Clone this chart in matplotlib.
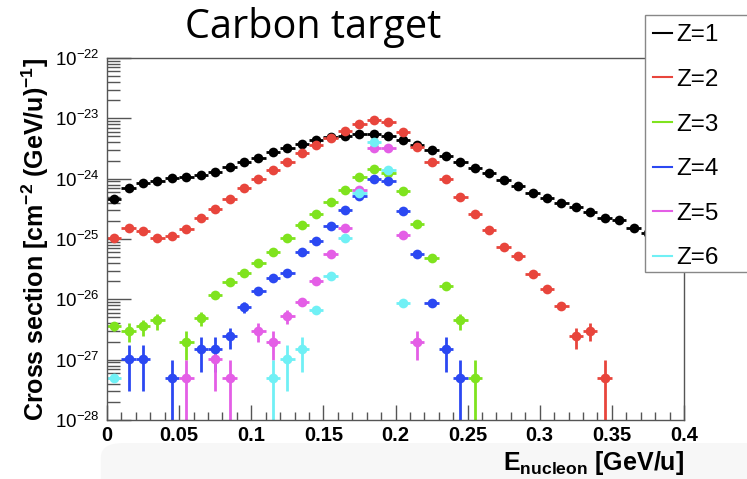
import numpy as np
import matplotlib
matplotlib.use("Agg")
import matplotlib.pyplot as plt
from matplotlib.lines import Line2D
from matplotlib.patches import FancyBboxPatch, Rectangle
from matplotlib.ticker import FixedLocator, LogLocator, MultipleLocator, NullFormatter

plt.rcParams['font.family'] = ['Liberation Sans', 'DejaVu Sans']
plt.rcParams['mathtext.fontset'] = 'custom'
plt.rcParams['mathtext.rm'] = 'Liberation Sans:bold'
plt.rcParams['mathtext.it'] = 'Liberation Sans:bold'
plt.rcParams['mathtext.bf'] = 'Liberation Sans:bold'

# bin width 0.01 GeV/u, points at bin centres starting at 0.005
bin_w = 0.01
nan = np.nan

# Z=1 (0.005 ... 0.395), last three hidden under the legend
z1 = [4.60e-25, 7.10e-25, 8.51e-25, 9.12e-25, 1.02e-24, 1.07e-24, 1.17e-24, 1.29e-24,
      1.58e-24, 1.91e-24, 2.24e-24, 2.75e-24, 3.24e-24, 3.72e-24, 4.37e-24, 4.90e-24,
      5.00e-24, 5.50e-24, 5.50e-24, 5.13e-24, 4.37e-24, 3.63e-24, 3.02e-24, 2.34e-24,
      1.91e-24, 1.51e-24, 1.23e-24, 9.55e-25, 7.59e-25, 5.89e-25, 4.79e-25, 3.89e-25,
      3.39e-25, 2.75e-25, 2.19e-25, 2.04e-25, 1.55e-25, 1.26e-25, 1.00e-25, 8.00e-26]
z1_err = [0.03] * 40

# Z=2 (0.005 ... 0.345)
z2 = [1.05e-25, 1.55e-25, 1.38e-25, 1.05e-25, 1.12e-25, 1.48e-25, 2.19e-25, 3.16e-25,
      4.57e-25, 7.08e-25, 9.77e-25, 1.38e-24, 1.91e-24, 2.63e-24, 3.55e-24, 4.68e-24,
      6.17e-24, 7.94e-24, 9.33e-24, 8.71e-24, 6.03e-24, 3.39e-24, 1.91e-24, 9.77e-25,
      5.01e-25, 2.57e-25, 1.41e-25, 7.24e-26, 5.25e-26, 2.63e-26, 1.48e-26, 7.76e-27,
      2.45e-27, 3.02e-27, 5.00e-28]
z2_err = [0.03] * 30 + [0.08, 0.15, 0.38, 0.33, 1.0]

# Z=3 (0.005 ... 0.255)
z3 = [3.55e-27, 3.02e-27, 3.55e-27, 4.47e-27, nan, 2.00e-27, 4.90e-27, 1.17e-26,
      1.91e-26, 2.75e-26, 4.07e-26, 6.17e-26, 1.02e-25, 1.70e-25, 2.63e-25, 4.07e-25,
      6.61e-25, 1.05e-24, 1.45e-24, 1.26e-24, 6.31e-25, 1.78e-25, 4.79e-26, 1.66e-26,
      4.47e-27, 5.00e-28]
z3_err = [0.15, 0.35, 0.3, 0.3, 0.0, 0.5, 0.25, 0.12, 0.1, 0.08, 0.05, 0.05, 0.03,
          0.03, 0.03, 0.03, 0.03, 0.03, 0.03, 0.03, 0.03, 0.03, 0.05, 0.1, 0.3, 1.0]

# Z=4 (0.005 ... 0.245)
z4 = [nan, 1.02e-27, 1.02e-27, nan, 5.00e-28, nan, 1.48e-27, 1.48e-27,
      2.45e-27, 7.41e-27, 1.35e-26, 2.29e-26, 2.69e-26, 6.17e-26, 9.33e-26, 1.66e-25,
      3.02e-25, 5.25e-25, 9.77e-25, 9.12e-25, 2.95e-25, 5.75e-26, 8.71e-27, 1.48e-27,
      5.00e-28]
z4_err = [0.0, 0.707, 0.707, 0.0, 1.0, 0.0, 0.577, 0.577, 0.38, 0.2, 0.12, 0.08, 0.08,
          0.05, 0.04, 0.03, 0.03, 0.03, 0.03, 0.03, 0.03, 0.06, 0.15, 0.577, 1.0]

# Z=5 (0.005 ... 0.215)
z5 = [nan, nan, nan, nan, nan, 5.00e-28, nan, 1.02e-27, 5.00e-28, nan, 3.02e-27,
      2.00e-27, 5.25e-27, 9.12e-27, 2.00e-26, 5.62e-26, 1.55e-25, 6.46e-25, 3.24e-24,
      3.24e-24, 1.17e-25, 2.00e-27]
z5_err = [0.0, 0.0, 0.0, 0.0, 0.0, 1.0, 0.0, 0.707, 1.0, 0.0, 0.35, 0.5, 0.25, 0.15,
          0.1, 0.06, 0.04, 0.03, 0.03, 0.03, 0.04, 0.5]

# Z=6 (0.005 ... 0.205)
z6 = [5.00e-28, nan, nan, nan, nan, nan, nan, nan, nan, nan, nan, 5.00e-28,
      1.02e-27, 1.48e-27, 6.76e-27, 2.40e-26, 1.02e-25, 5.75e-25, 3.98e-24, 1.38e-24,
      8.71e-27]
z6_err = [0.1, 0, 0, 0, 0, 0, 0, 0, 0, 0, 0, 1.0, 0.707, 0.577, 0.15, 0.08, 0.04,
          0.03, 0.03, 0.03, 0.15]

labels = ["Z=1", "Z=2", "Z=3", "Z=4", "Z=5", "Z=6"]
colors = ["#000000", "#e8453c", "#7fe31e", "#2b48f2", "#e45ee6", "#70f0f5"]
series = [z1, z2, z3, z4, z5, z6]
errors = [z1_err, z2_err, z3_err, z4_err, z5_err, z6_err]
xtick_vals = [0, 0.05, 0.1, 0.15, 0.2, 0.25, 0.3, 0.35, 0.4]
xtick_text = ["0", "0.05", "0.1", "0.15", "0.2", "0.25", "0.3", "0.35", "0.4"]
ytick_vals = [1e-28, 1e-27, 1e-26, 1e-25, 1e-24, 1e-23, 1e-22]

fig = plt.figure(figsize=(7.47, 4.79), dpi=100)

# faint grey slide background strip at the bottom
fig.patches.append(FancyBboxPatch((0.135, -0.05), 0.95, 0.125,
                                  boxstyle="round,pad=0,rounding_size=0.03",
                                  transform=fig.transFigure, facecolor='#f7f7f7',
                                  edgecolor='none', zorder=-5))

ax = fig.add_axes([107 / 747, 1 - 420 / 479, (684 - 107) / 747, (420 - 58) / 479])
ax.patch.set_alpha(0)

for vals, rel, col in zip(series, errors, colors):
    y = np.array(vals, dtype=float)
    r = np.array(rel, dtype=float)
    x = bin_w / 2 + bin_w * np.arange(len(y))
    sig = y * r
    lower = np.where(r >= 1.0, y * 0.999999, sig)
    ax.errorbar(x, y, yerr=[lower, sig], xerr=bin_w / 2, fmt='o', color=col,
                ms=7, elinewidth=2.0, capsize=0, mew=0)

ax.set_yscale('log')
ax.set_xlim(0, 0.4)
ax.set_ylim(1e-28, 1e-22)

ax.set_xticks(xtick_vals)
ax.set_xticklabels(xtick_text, fontweight='bold')
ax.xaxis.set_minor_locator(MultipleLocator(0.01))
ax.yaxis.set_major_locator(FixedLocator(ytick_vals))
ax.yaxis.set_minor_locator(LogLocator(base=10, subs=np.arange(2, 10), numticks=20))
ax.yaxis.set_minor_formatter(NullFormatter())

ax.tick_params(axis='both', which='both', direction='in', top=False, right=False,
               color='#555555')
ax.tick_params(axis='x', which='major', length=11, width=1, pad=4, labelsize=14.5)
ax.tick_params(axis='x', which='minor', length=6, width=1)
ax.tick_params(axis='y', which='major', length=17, width=1, pad=5, labelsize=13.5)
ax.tick_params(axis='y', which='minor', length=9, width=1)
for sp in ax.spines.values():
    sp.set_color('#555555')
    sp.set_linewidth(1.0)

ax.set_ylabel(r"Cross section [cm$^{-2}$ (GeV/u)$^{-1}$]", fontsize=18,
              fontweight='bold', labelpad=3)
ax.text(1.0, -0.08, r"E$_{\mathrm{nucleon}}$ [GeV/u]", transform=ax.transAxes,
        ha='right', va='top', fontsize=18, fontweight='bold', zorder=10)

fig.text(313 / 747, 1 - 28 / 479, "Carbon target", ha='center', va='center', fontsize=28.5,
         family=['Open Sans', 'DejaVu Sans'])

# legend box runs past the right edge of the picture
fig.patches.append(Rectangle((645 / 747, 1 - 272 / 479), 0.2, 257 / 479,
                             transform=fig.transFigure, facecolor='white',
                             edgecolor='#888888', lw=1.0, zorder=5))
handles = [Line2D([0], [0], color=c, lw=1.5) for c in colors]
leg = fig.legend(handles, labels, loc='upper left',
                 bbox_to_anchor=(646 / 747, 1 - 17 / 479),
                 frameon=False, fontsize=17.5, handlelength=0.75,
                 handletextpad=0.2, labelspacing=0.93, borderpad=0.3,
                 borderaxespad=0)
leg.set_zorder(6)

fig.savefig("out.png", dpi=100)
